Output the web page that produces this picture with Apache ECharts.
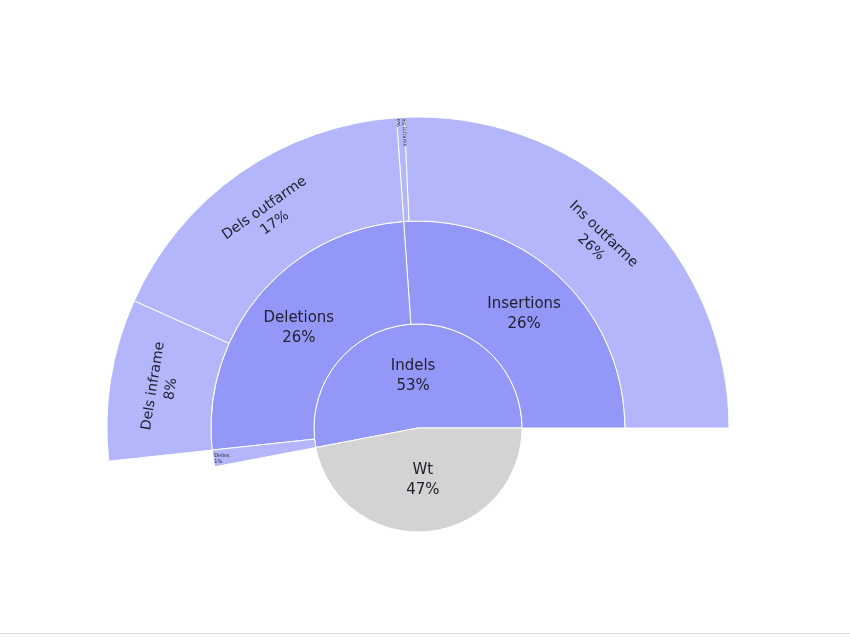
<!DOCTYPE html>
<html>
<head>
<meta charset="utf-8">
<script src="https://cdn.jsdelivr.net/npm/echarts@6/dist/echarts.min.js"></script>
<style>
html,body{margin:0;padding:0;background:#fff;}
#chart{width:850px;height:637px;}
</style>
</head>
<body>
<div id="chart"></div>
<script>
// Hierarchy (percent of total)
const nodeNames   = ['Indels', 'Wt', 'Insertions', 'Deletions', 'Delins', 'Ins outfarme', 'Ins inframe', 'Dels outfarme', 'Dels inframe'];
const nodeParents = ['',       '',   'Indels',     'Indels',    'Indels', 'Insertions',   'Insertions',  'Deletions',     'Deletions'];
const nodeValues  = [53.0,     47.0, 26.1,         25.6,        1.3,      25.7,           0.4,           17.2,            8.4];

const TOTAL = nodeNames.reduce((s, n, i) => nodeParents[i] === '' ? s + nodeValues[i] : s, 0);

const INNER = '#9297f8';
const LEAF = '#b3b6fa';
const GREY = '#d3d3d3';

function build(parent) {
  const out = [];
  nodeNames.forEach((n, i) => {
    if (nodeParents[i] !== parent) return;
    const children = build(n);
    const node = { name: n, value: nodeValues[i] };
    let color = children.length ? INNER : LEAF;
    if (n === 'Wt') color = GREY;
    node.itemStyle = { color: color };
    if (children.length) node.children = children;
    if (n === 'Delins') {
      node.label = { fontSize: 5, rotate: 0, align: 'right', distance: 1, lineHeight: 6 };
    }
    if (n === 'Ins inframe') {
      node.label = { fontSize: 5, rotate: 'radial', align: 'right', distance: 1, lineHeight: 6 };
    }
    out.push(node);
  });
  return out;
}

const chart = echarts.init(document.getElementById('chart'), null, { renderer: 'canvas' });
chart.setOption({
  animation: false,
  backgroundColor: '#ffffff',
  graphic: [{
    type: 'rect', left: 0, top: 633, shape: { width: 850, height: 1 },
    style: { fill: '#dcdcdc' }, silent: true
  }],
  series: [{
    type: 'sunburst',
    center: [418, 428],
    radius: [0, 311],
    startAngle: 0,
    clockwise: false,
    sort: null,
    nodeClick: false,
    emphasis: { disabled: true, focus: 'none' },
    itemStyle: { borderColor: '#ffffff', borderWidth: 1 },
    label: {
      show: true,
      fontFamily: 'DejaVu Sans',
      fontSize: 15,
      lineHeight: 20,
      color: '#22222e',
      formatter: p => p.name + '\n' + Math.round(p.value / TOTAL * 100) + '%'
    },
    levels: [
      {},
      { r0: 0, r: 104, label: { rotate: 0 } },
      { r0: 104, r: 207, label: { rotate: 0 } },
      { r0: 207, r: 311, label: { rotate: 'tangential', fontSize: 14, lineHeight: 18 } }
    ],
    data: build('')
  }]
});
</script>
</body>
</html>
